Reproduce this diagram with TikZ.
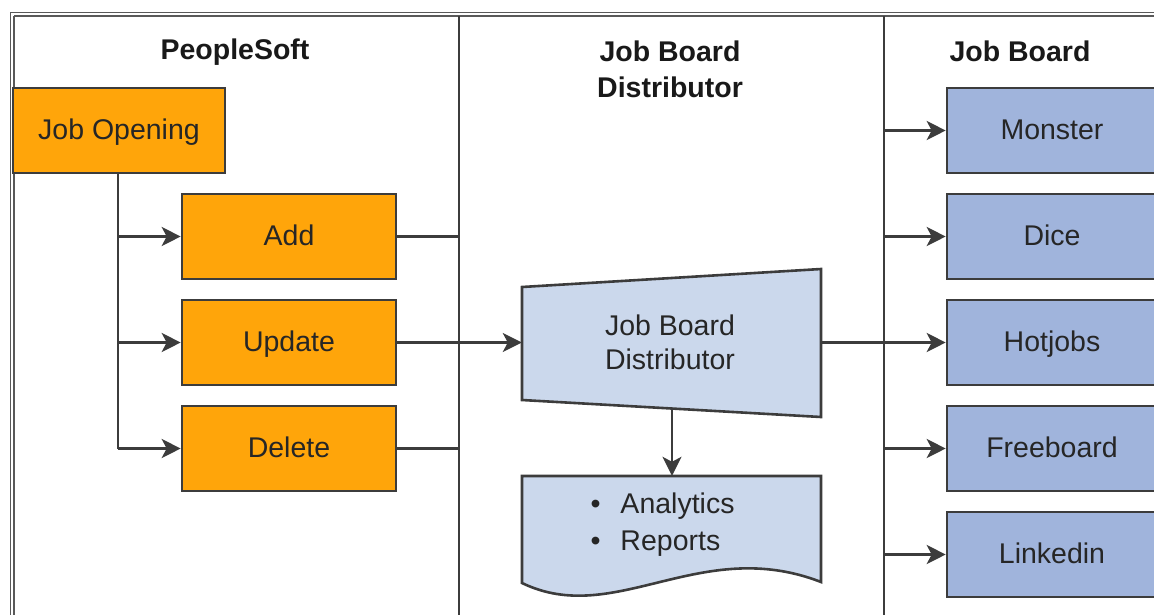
\documentclass[tikz,border=0pt]{standalone}
\usepackage{fontspec}
\setmainfont{Liberation Sans}
\usetikzlibrary{arrows.meta}
\definecolor{lineg}{HTML}{3C3C3C}
\definecolor{orng}{HTML}{FFA50A}
\definecolor{jbblue}{HTML}{A0B4DC}
\definecolor{lblue}{HTML}{CBD8EC}
\tikzset{
  psbox/.style={draw=lineg, line width=2.6pt, fill=orng, minimum height=85pt, inner sep=0pt, text depth=2pt, font=\fontsize{28.5}{30}\selectfont, text=black!85},
  jbbox/.style={draw=lineg, line width=2.6pt, fill=jbblue, minimum width=210pt, minimum height=85pt, inner sep=0pt, text depth=2pt, font=\fontsize{28.5}{30}\selectfont, text=black!85},
  hdr/.style={font=\bfseries\fontsize{28.5}{36}\selectfont, align=center, text=black!90},
  conn/.style={draw=lineg, line width=2.6pt},
  arr/.style={conn, -{Stealth[length=19pt,width=19pt,inset=5pt]}},
  lane/.style={draw=lineg, line width=2.6pt},
}
\begin{document}
\begin{tikzpicture}[x=1pt,y=-1pt]
\useasboundingbox (0,0) rectangle (1154,614);
\clip (0,0) rectangle (1154,614);
% frame
\draw[draw=lineg!85, line width=1.6pt] (10,12.5) -- (1160,12.5);
\draw[draw=lineg!85, line width=1.6pt] (10.5,12) -- (10.5,620);
\draw[draw=lineg!85, line width=1.6pt] (14,16) -- (1160,16);
\draw[draw=lineg!85, line width=1.6pt] (14,16) -- (14,620);
% lane dividers
\draw[lane] (459,16) -- (459,620);
\draw[lane] (884,16) -- (884,620);
% headers
\node[hdr] (h1) at (235,52) {PeopleSoft};
\node[hdr] (h2) at (670,69) {Job Board\\Distributor};
\node[hdr] (h3) at (1020,51) {Job Board};
% PeopleSoft boxes
\node[psbox, minimum width=212pt] (jo) at (119,130.5) {Job Opening};
\node[psbox, minimum width=214pt] (add) at (289,236.5) {Add};
\node[psbox, minimum width=214pt] (upd) at (289,342.5) {Update};
\node[psbox, minimum width=214pt] (del) at (289,448.5) {Delete};
% Job board boxes
\node[jbbox] (mon) at (1052,130.5) {Monster};
\node[jbbox] (dice) at (1052,236.5) {Dice};
\node[jbbox] (hot) at (1052,342.5) {Hotjobs};
\node[jbbox] (free) at (1052,448.5) {Freeboard};
\node[jbbox] (lnk) at (1052,554.5) {Linkedin};
% distributor
\node[minimum width=299pt, minimum height=113pt, inner sep=0pt] (dist) at (671.5,342.5) {};
\draw[draw=lineg, line width=2.6pt, fill=lblue] (522,287) -- (821,269) -- (821,417) -- (522,400) -- cycle;
\node[align=center, font=\fontsize{28.5}{34}\selectfont, text=black!85] (distt) at (670,342) {Job Board\\Distributor};
% document
\node[minimum width=299pt, minimum height=107pt, inner sep=0pt] (doc) at (671.5,529.5) {};
\draw[draw=lineg, line width=2.6pt, fill=lblue] (522,476) -- (821,476) -- (821,582)
  .. controls (700,535) and (615,628) .. (522,583) -- cycle;
\node[font=\fontsize{28.5}{37}\selectfont, text=black!85, align=left, anchor=west] (doct) at (587,525)
  {\textbullet\hspace{20pt}Analytics\\\textbullet\hspace{20pt}Reports};
% PeopleSoft connectors
\coordinate (jot) at (118,173);
\draw[conn] (jo.south -| jot) -- (jot |- del.west);
\draw[arr] (jot |- add.west) -- (add.west);
\draw[arr] (jot |- upd.west) -- (upd.west);
\draw[arr] (jot |- del.west) -- (del.west);
\coordinate (d1a) at (459,236.5);
\coordinate (d1c) at (459,448.5);
\draw[conn] (add.east) -- (d1a);
\draw[conn] (del.east) -- (d1c);
\draw[arr] (upd.east) -- (dist.west);
% distributor to doc
\coordinate (dsb) at (672,409);
\draw[arr] (dsb) -- (doc.north -| dsb);
% distributor to job boards
\coordinate (bus) at (884,342.5);
\draw[conn] (dist.east) -- (bus);
\draw[arr] (bus) -- (hot.west);
\draw[arr] (bus |- mon.west) -- (mon.west);
\draw[arr] (bus |- dice.west) -- (dice.west);
\draw[arr] (bus |- free.west) -- (free.west);
\draw[arr] (bus |- lnk.west) -- (lnk.west);
\end{tikzpicture}
\end{document}
